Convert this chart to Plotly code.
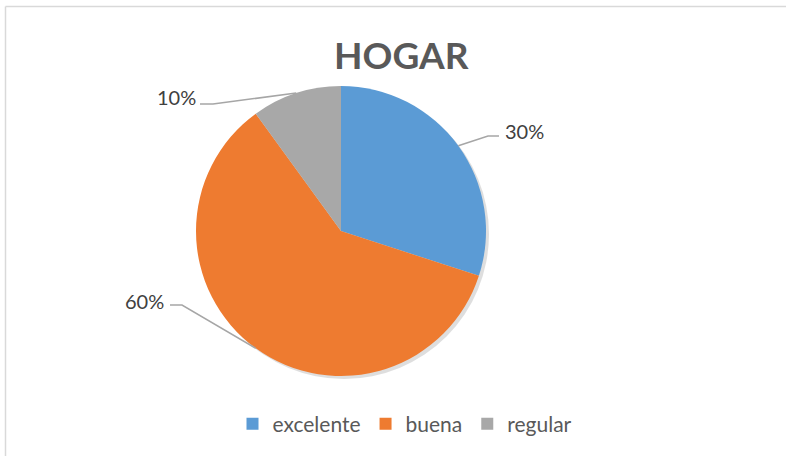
import math
import plotly.graph_objects as go

# ===================== Data =====================
categories = ["excelente", "buena", "regular"]
values = [30, 60, 10]
pct_labels = ["30%", "60%", "10%"]

# ===================== Style =====================
W, H = 786, 456
colors = ["#5B9BD5", "#EE7B30", "#A8A8A8"]
font = "Lato, Calibri, 'Noto Sans', sans-serif"
cx, cy, r = 341, 231, 145            # pie centre / radius in pixels
# label elbow + text centre in pixels (Excel-placed), per slice
elbows = [(488, 136), (182, 305), (213, 104)]
line_ends = [(499, 136), (170, 305), (200, 104)]
text_pos = [(524, 131), (144, 301), (176, 97)]


def px(x, y):
    return x / W, 1 - y / H


dom_x = [(cx - r) / W, (cx + r) / W]
dom_y = [1 - (cy + r) / H, 1 - (cy - r) / H]

fig = go.Figure()

# soft shadow under the pie
fig.add_trace(go.Pie(
    values=[1], labels=["_shadow"], showlegend=False, hoverinfo="skip",
    textinfo="none", sort=False,
    marker=dict(colors=["rgba(0,0,0,0.13)"], line=dict(width=0)),
    domain=dict(x=[dom_x[0] + 3 / W, dom_x[1] + 3 / W],
                y=[dom_y[0] - 3 / H, dom_y[1] - 3 / H]),
))

fig.add_trace(go.Pie(
    labels=categories, values=values, sort=False, direction="clockwise",
    rotation=0, textinfo="none", hoverinfo="label+percent",
    marker=dict(colors=colors, line=dict(width=0)),
    domain=dict(x=dom_x, y=dom_y),
))

# leader lines + percentage labels, starting at each slice's mid-angle
total = sum(values)
cum = 0
shapes = []
annotations = []
for i, v in enumerate(values):
    mid = (cum + v / 2) / total
    cum += v
    a = 2 * math.pi * mid
    ex, ey = cx + r * math.sin(a), cy - r * math.cos(a)
    p0 = px(ex, ey)
    p1 = px(*elbows[i])
    p2 = px(*line_ends[i])
    shapes.append(dict(
        type="path", xref="paper", yref="paper",
        path=f"M{p0[0]},{p0[1]} L{p1[0]},{p1[1]} L{p2[0]},{p2[1]}",
        line=dict(color="#A6A6A6", width=1.5),
    ))
    tx, ty = px(*text_pos[i])
    annotations.append(dict(
        x=tx, y=ty, xref="paper", yref="paper", text=pct_labels[i],
        showarrow=False, xanchor="center", yanchor="middle",
        font=dict(family=font, size=20, color="#404040"),
    ))

# chart border: only left and top edges are visible in the reference
bx, by = px(5.5, 6.5)
for x0, y0, x1, y1 in [(bx, 0, bx, by), (bx, by, 1, by)]:
    shapes.append(dict(
        type="line", xref="paper", yref="paper",
        x0=x0, y0=y0, x1=x1, y1=y1,
        line=dict(color="#D9D9D9", width=1.5),
    ))

annotations.append(dict(
    x=px(401, 0)[0], y=px(0, 55)[1], xref="paper", yref="paper",
    text="<b>HOGAR</b>", showarrow=False, xanchor="center", yanchor="middle",
    font=dict(family=font, size=37, color="#595959"),
))

fig.update_layout(
    width=W, height=H,
    margin=dict(l=0, r=0, t=0, b=0),
    paper_bgcolor="white", plot_bgcolor="white",
    shapes=shapes, annotations=annotations,
    legend=dict(
        orientation="h", x=px(405, 0)[0], y=px(0, 424)[1],
        xanchor="center", yanchor="middle",
        font=dict(family=font, size=21, color="#595959"),
        bgcolor="rgba(0,0,0,0)",
    ),
)

fig.write_html(
    "out.html",
    config={"displayModeBar": False},
    post_script="document.body.style.margin='0px';"
                "document.body.style.overflow='hidden';",
)
